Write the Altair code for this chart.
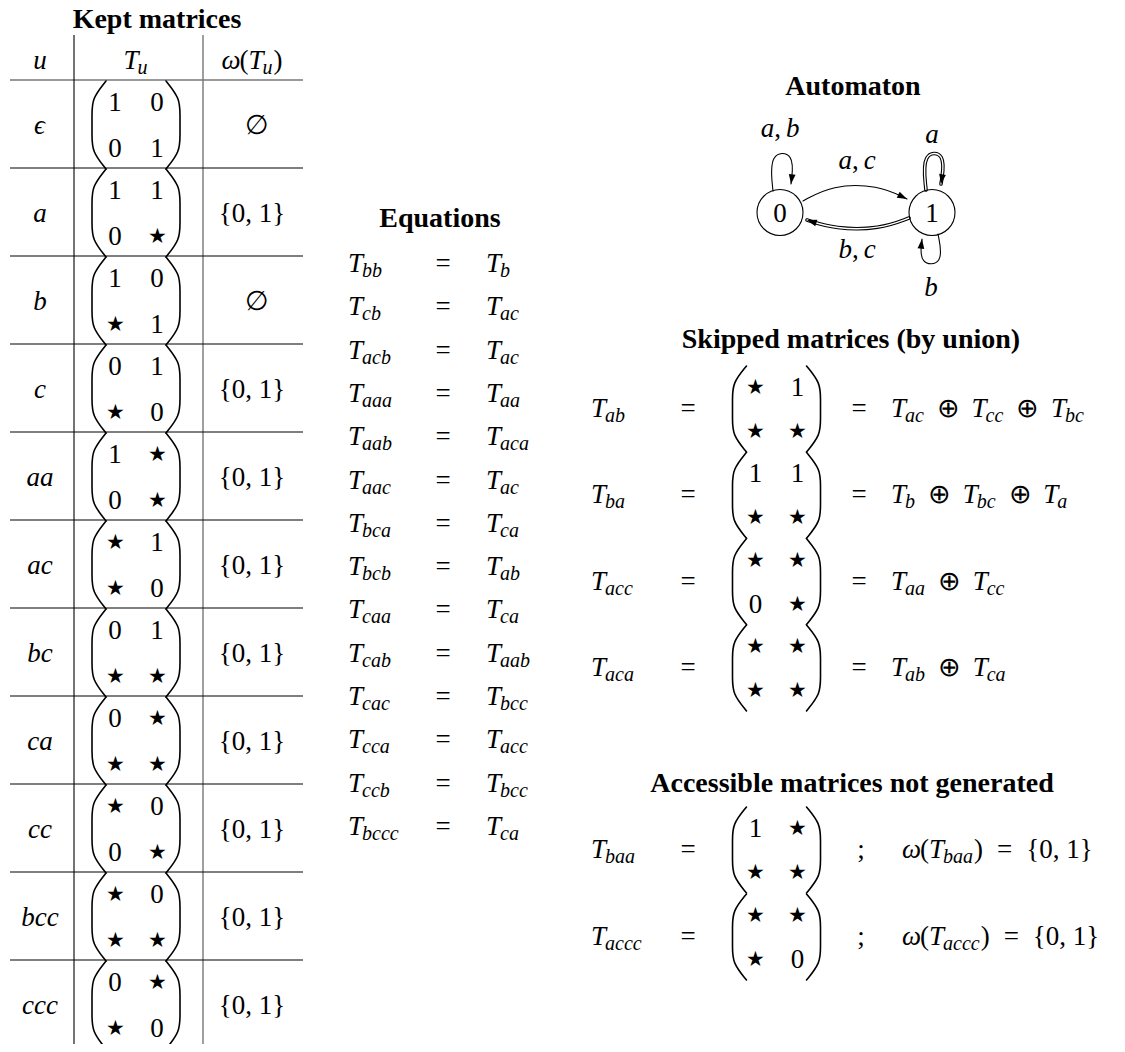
import math
import altair as alt
import pandas as pd

# ---------------- content ----------------
TITLES = ["Kept matrices", "Equations", "Automaton",
          "Skipped matrices (by union)", "Accessible matrices not generated"]

KEPT_WORDS = ["ϵ", "a", "b", "c", "aa", "ac", "bc", "ca", "cc", "bcc", "ccc"]
KEPT_ENTRIES = [
    ["1", "0", "0", "1"],
    ["1", "1", "0", "⋆"],
    ["1", "0", "⋆", "1"],
    ["0", "1", "⋆", "0"],
    ["1", "⋆", "0", "⋆"],
    ["⋆", "1", "⋆", "0"],
    ["0", "1", "⋆", "⋆"],
    ["0", "⋆", "⋆", "⋆"],
    ["⋆", "0", "0", "⋆"],
    ["⋆", "0", "⋆", "⋆"],
    ["0", "⋆", "⋆", "0"],
]
KEPT_OMEGA = ["∅", "{0, 1}", "∅", "{0, 1}", "{0, 1}", "{0, 1}",
              "{0, 1}", "{0, 1}", "{0, 1}", "{0, 1}", "{0, 1}"]

EQ_LHS = ["bb", "cb", "acb", "aaa", "aab", "aac", "bca", "bcb", "caa",
          "cab", "cac", "cca", "ccb", "bccc"]
EQ_RHS = ["b", "ac", "ac", "aa", "aca", "ac", "ca", "ab", "ca",
          "aab", "bcc", "acc", "bcc", "ca"]

SKIP_WORDS = ["ab", "ba", "acc", "aca"]
SKIP_ENTRIES = [["⋆", "1", "⋆", "⋆"], ["1", "1", "⋆", "⋆"],
                ["⋆", "⋆", "0", "⋆"], ["⋆", "⋆", "⋆", "⋆"]]
SKIP_UNION = [["ac", "cc", "bc"], ["b", "bc", "a"], ["aa", "cc"], ["ab", "ca"]]

ACC_WORDS = ["baa", "accc"]
ACC_ENTRIES = [["1", "⋆", "⋆", "⋆"], ["⋆", "⋆", "⋆", "0"]]
ACC_OMEGA = ["{0, 1}", "{0, 1}"]

STATES = ["0", "1"]
# (from, to, label, double line)
TRANSITIONS = [(0, 0, "a, b", False), (0, 1, "a, c", False), (1, 0, "b, c", True),
               (1, 1, "a", True), (1, 1, "b", False)]

# ---------------- layout (page pixels) ----------------
W, H = 1109, 1036
F, S, FT = 27, 20, 28
STAR_GLYPH, STAR_SIZE, STAR_DY = "★", 21, 7
FONT = "Liberation Serif"
W_I = {"T": .556, "a": .5, "b": .5, "c": .444, "u": .5, "ω": .667, "ϵ": .45}
W_R = {"(": .333, ")": .333, "{": .48, "}": .48, "0": .5, "1": .5, ",": .25,
       " ": .25, "=": .564, ";": .278, "⊕": .838}

texts, curves, rules, dots, heads = [], [], [], [], []
_cid = [0]


def put(x, y, s, kind, size, align="left"):
    texts.append(dict(x=x, y=y, t=s, kind=kind, size=size, align=align))


def run_width(parts):
    w = 0.0
    for s, kind in parts:
        if kind == "gap":
            w += s
        elif kind == "sub":
            w += sum(W_I.get(ch, .5) for ch in s) * S
        elif kind == "i":
            w += sum(W_I.get(ch, .5) for ch in s) * F
        else:
            w += sum(W_R.get(ch, .5) for ch in s) * F
    return w


def place(parts, x, base):
    for s, kind in parts:
        if kind == "gap":
            x += s
            continue
        if kind == "sub":
            put(x - 1, base + 5, s, "i", S)
        else:
            put(x, base, s, kind, F)
        x += run_width([(s, kind)])
    return x


def place_center(parts, cx, base):
    place(parts, cx - run_width(parts) / 2, base)


def T(w):
    return [("T", "i"), (w, "sub")]


def add_curve(style, pts):
    _cid[0] += 1
    for k, (x, y) in enumerate(pts):
        curves.append(dict(cid=_cid[0], style=style, k=k, x=x, y=y))


def matrix(entries, cx, cy, dy, half, dx=21, inner=30, outer=44):
    for k, e in enumerate(entries):
        r, c = divmod(k, 2)
        ex, ey = cx + (2 * c - 1) * dx, cy + (2 * r - 1) * dy
        if e == "⋆":
            put(ex, ey + STAR_DY, STAR_GLYPH, "r", STAR_SIZE, "center")
        else:
            put(ex, ey + 0.34 * F, e, "r", F, "center")
    for side in (-1, 1):
        xs = [inner, outer, outer, outer, outer, inner]
        fr = [0, .2, .38, .62, .8, 1]
        add_curve("paren", [(cx + side * xv, cy - half + f * 2 * half) for xv, f in zip(xs, fr)])


# ---- Kept matrices table ----
TAB_TOP, ROW_H = 80, 88
X_U, X_V1, X_M, X_V2, X_W = 40, 74, 136, 203, 252
put(157, 28, TITLES[0], "b", FT, "center")
place_center([("u", "i")], X_U, 69)
place_center(T("u"), X_M, 69)
place_center([("ω", "i"), ("(", "r")] + T("u") + [(")", "r")], X_W, 69)
rules.append(dict(x=10, y=TAB_TOP, x2=303, y2=TAB_TOP, c="#777777", w=1.3))
rules.append(dict(x=X_V1, y=35, x2=X_V1, y2=1048, c="#000000", w=1.1))
rules.append(dict(x=X_V2, y=35, x2=X_V2, y2=1048, c="#777777", w=1.4))
for i, wd in enumerate(KEPT_WORDS):
    top = TAB_TOP + i * ROW_H
    if i:
        rules.append(dict(x=10, y=top, x2=303, y2=top, c="#000000", w=1.1))
    place_center([(wd, "i")], X_U, top + 54)
    matrix(KEPT_ENTRIES[i], X_M, top + 45, 23, 44)
    place_center([(KEPT_OMEGA[i], "r")], X_W, top + 54)

# ---- Equations ----
put(440, 227, TITLES[1], "b", FT, "center")
for i, (l, r) in enumerate(zip(EQ_LHS, EQ_RHS)):
    b = 272 + 43.3 * i
    place(T(l), 348, b)
    place_center([("=", "r")], 443, b)
    place(T(r), 486, b)

# ---- Skipped matrices ----
put(851, 348, TITLES[3], "b", FT, "center")
for i, wd in enumerate(SKIP_WORDS):
    b = 417 + 86.3 * i
    place(T(wd), 591, b)
    place_center([("=", "r")], 688, b)
    matrix(SKIP_ENTRIES[i], 776.5, b - 8, 22, 43)
    place_center([("=", "r")], 859, b)
    parts = []
    for j, term in enumerate(SKIP_UNION[i]):
        if j:
            parts += [(12, "gap"), ("⊕", "r"), (12, "gap")]
        parts += T(term)
    place(parts, 891, b)

# ---- Accessible matrices ----
put(852, 792, TITLES[4], "b", FT, "center")
for i, wd in enumerate(ACC_WORDS):
    b = 858 + 87 * i
    place(T(wd), 591, b)
    place_center([("=", "r")], 688, b)
    matrix(ACC_ENTRIES[i], 776.5, b - 8, 22, 43)
    place_center([(";", "r")], 861, b)
    parts = [("ω", "i"), ("(", "r")] + T(wd) + [(")", "r"), (14, "gap"), ("=", "r"),
                                                (14, "gap"), (ACC_OMEGA[i], "r")]
    place(parts, 902, b)

# ---- Automaton ----
put(853, 95, TITLES[2], "b", FT, "center")
STATE_XY = [(780, 212.5), (932, 212.5)]
R = 23
for s, (x, y) in zip(STATES, STATE_XY):
    dots.append(dict(x=x, y=y))
    place_center([(s, "r")], x, y + 9)
EDGE_PATHS = [
    [(773, 191), (769, 152), (795, 152), (791, 184)],
    [(803, 201), (832, 185), (878, 185), (907, 199)],
    [(909, 218), (880, 229), (835, 229), (807, 220)],
    [(926, 190), (922, 152), (946, 152), (941, 184)],
    [(938, 234), (944, 265), (919, 265), (922, 239)],
]
LABEL_POS = [(780, 137), (857, 169), (857, 258), (932, 143), (931, 296)]
for (a, b_, lab, dbl), pts, (lx, ly) in zip(TRANSITIONS, EDGE_PATHS, LABEL_POS):
    add_curve("double" if dbl else "single", pts)
    (x1, y1), (x2, y2) = pts[-2], pts[-1]
    ang = math.degrees(math.atan2(x2 - x1, -(y2 - y1))) % 360
    heads.append(dict(x=x2, y=y2, angle=ang))
    parts = []
    for j, sym in enumerate(lab.split(", ")):
        if j:
            parts += [(",", "r"), (5, "gap")]
        parts.append((sym, "i"))
    place_center(parts, lx, ly)

# ---------------- chart ----------------
XS = alt.Scale(domain=[8, 8 + W], nice=False, zero=False)
YS = alt.Scale(domain=[8, 8 + H], reverse=True, nice=False, zero=False)


def X(f="x"):
    return alt.X(f"{f}:Q", scale=XS, axis=None)


def Y(f="y"):
    return alt.Y(f"{f}:Q", scale=YS, axis=None)


df_rules = pd.DataFrame(rules)
df_curves = pd.DataFrame(curves)
df_dots = pd.DataFrame(dots)
df_heads = pd.DataFrame(heads)
df_texts = pd.DataFrame(texts)

layers = []
layers.append(alt.Chart(df_rules).mark_rule().encode(
    x=X(), y=Y(), x2="x2:Q", y2="y2:Q",
    color=alt.Color("c:N", scale=None), strokeWidth=alt.StrokeWidth("w:Q", scale=None)))


def curve_layer(style, color, width):
    return alt.Chart(df_curves[df_curves["style"].isin(style)]).mark_line(
        interpolate="basis", color=color, strokeWidth=width, strokeCap="round").encode(
        x=X(), y=Y(), detail="cid:N", order="k:Q")


layers.append(curve_layer(["paren"], "black", 1.6))
layers.append(curve_layer(["single"], "black", 1.1))
layers.append(curve_layer(["double"], "black", 3.6))
layers.append(curve_layer(["double"], "white", 1.4))
layers.append(alt.Chart(df_dots).mark_point(
    shape="circle", size=(2 * R) ** 2, filled=False, stroke="black", strokeWidth=1.1,
    opacity=1).encode(x=X(), y=Y()))
layers.append(alt.Chart(df_heads).mark_point(
    shape="M0,0L-0.8,2.3L0.8,2.3Z", size=72, filled=True, color="black", opacity=1,
    strokeWidth=0).encode(x=X(), y=Y(), angle=alt.Angle("angle:Q", scale=None)))

STYLE = {"i": dict(fontStyle="italic"), "r": dict(fontStyle="normal"),
         "b": dict(fontWeight="bold")}
for (kind, align), grp in df_texts.groupby(["kind", "align"]):
    layers.append(alt.Chart(grp.reset_index(drop=True)).mark_text(
        font=FONT, align=align, baseline="alphabetic", color="black",
        **STYLE[kind]).encode(
        x=X(), y=Y(), text="t:N", size=alt.Size("size:Q", scale=None)))

chart = (alt.layer(*layers)
         .properties(width=W, height=H, padding=0, autosize="none")
         .configure_view(stroke=None))

chart.save("out.html", embed_options={"renderer": "svg", "actions": False})
